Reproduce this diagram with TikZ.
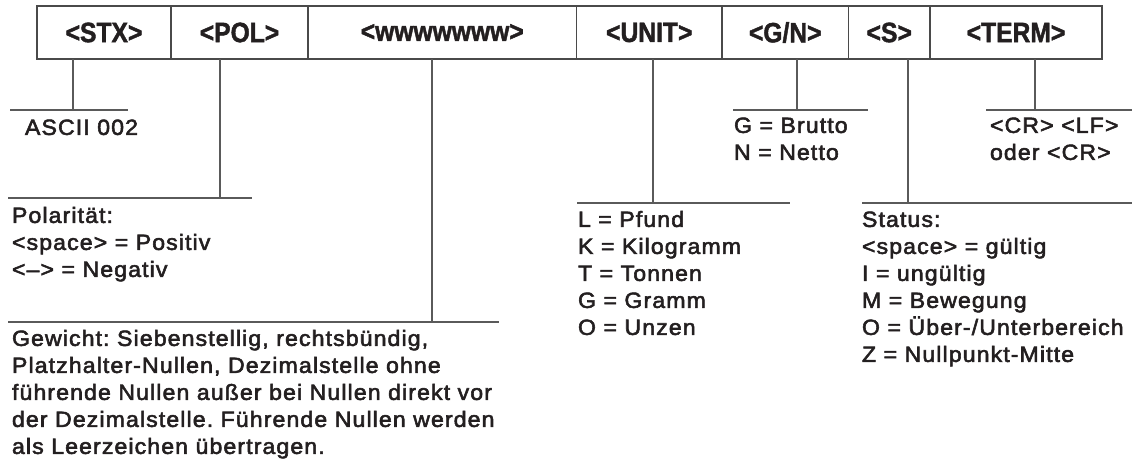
\documentclass[tikz,border=0pt]{standalone}
\usepackage{fontspec}
\setmainfont{Liberation Sans}
\newfontfamily\notefont[LetterSpace=5,FakeStretch=1.05,FakeBold=2.5]{Liberation Sans}
\newfontfamily\fieldfont[FakeStretch=0.88,FakeBold=1.5]{Liberation Sans Bold}
\usetikzlibrary{positioning}
\definecolor{boxline}{HTML}{4A4A4A}
\definecolor{leadline}{HTML}{5A5A5A}
\definecolor{ink}{HTML}{231F20}
\frenchspacing

\begin{document}
\begin{tikzpicture}[
  x=0.5pt, y=-0.5pt,
  field/.style={rectangle, draw=boxline, line width=0.7pt, minimum height=26.5pt,
    inner sep=0pt, outer sep=0pt, text=ink,
    font=\fieldfont\fontsize{14}{15}\selectfont},
  lead/.style={draw=leadline, line width=0.6pt},
  note/.style={anchor=north west, inner sep=0pt, outer sep=0pt, align=left,
    text=ink, font=\notefont\fontsize{11}{13.5}\selectfont},
]
  \useasboundingbox (0,0) rectangle (1132,465);
  % header fields
  \node[field, minimum width=67pt, anchor=north west] (stx) at (37,6) {<STX>};
  \node[field, minimum width=68.5pt, right=0pt of stx] (pol) {<POL>};
  \node[field, minimum width=134.25pt, right=0pt of pol] (wgt) {<wwwwwww>};
  \node[field, minimum width=72.75pt, right=0pt of wgt] (unit) {<UNIT>};
  \node[field, minimum width=63.25pt, right=0pt of unit] (gn) {<G/N>};
  \node[field, minimum width=40.75pt, right=0pt of gn] (st) {<S>};
  \node[field, minimum width=86pt, right=0pt of st] (term) {<TERM>};
  % leader bars
  \coordinate (stxB) at (73,110);  \coordinate (stxL) at (10,110);  \coordinate (stxR) at (128,110);
  \coordinate (polB) at (220,198); \coordinate (polL) at (8,198);   \coordinate (polR) at (252,198);
  \coordinate (wgtB) at (432,322); \coordinate (wgtL) at (8,322);   \coordinate (wgtR) at (499,322);
  \coordinate (unitB) at (653,203); \coordinate (unitL) at (577,203); \coordinate (unitR) at (790,203);
  \coordinate (gnB) at (797,110);  \coordinate (gnL) at (733,110);  \coordinate (gnR) at (868,110);
  \coordinate (stB) at (908,203);  \coordinate (stL) at (862,203);  \coordinate (stR) at (1132,203);
  \coordinate (termB) at (1035,110); \coordinate (termL) at (986,110); \coordinate (termR) at (1132,110);
  \foreach \f in {stx,pol,wgt,unit,gn,st,term}{
    \draw[lead] (\f.south -| \f B) -- (\f B);
    \draw[lead] (\f L) -- (\f R);
  }
  % descriptions
  \node[note] (stxT) at (25,116) {\strut ASCII 002};
  \node[note] (polT) at (12,204) {\strut Polarität:\\<space> = Positiv\\<–> = Negativ};
  \node[note] (wgtT) at (12,327) {\strut Gewicht: Siebenstellig, rechtsbündig,\\
    Platzhalter-Nullen, Dezimalstelle ohne\\
    führende Nullen außer bei Nullen direkt vor\\
    der Dezimalstelle. Führende Nullen werden\\
    als Leerzeichen übertragen.};
  \node[note] (unitT) at (578,208) {\strut L = Pfund\\K = Kilogramm\\T = Tonnen\\G = Gramm\\O = Unzen};
  \node[note] (gnT) at (734,114) {\strut G = Brutto\\N = Netto};
  \node[note] (stT) at (862,208) {\strut Status:\\<space> = gültig\\I = ungültig\\M = Bewegung\\O = Über-/Unterbereich\\Z = Nullpunkt-Mitte};
  \node[note] (termT) at (990,114) {\strut <CR> <LF>\\oder <CR>};
\end{tikzpicture}
\end{document}
